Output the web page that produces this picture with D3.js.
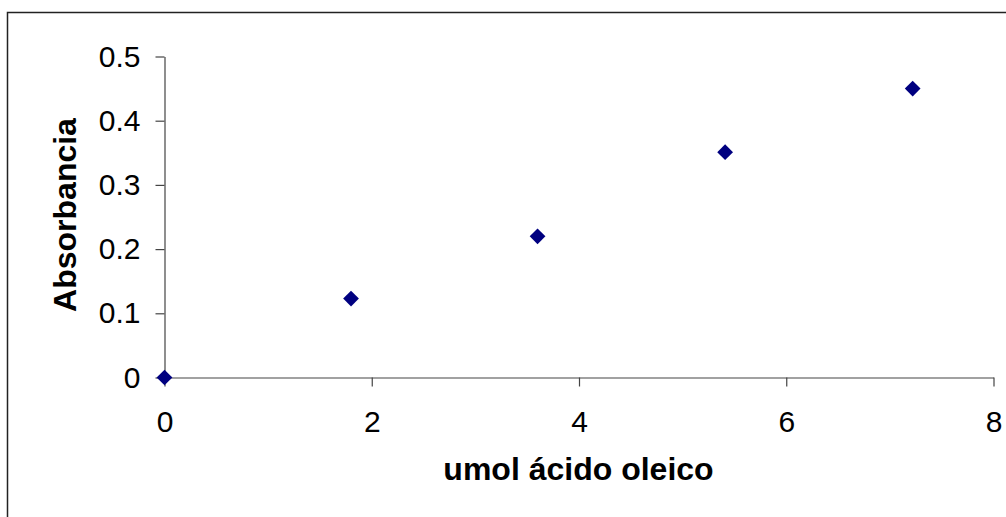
<!DOCTYPE html>
<html>
<head>
<meta charset="utf-8">
<script src="https://cdn.jsdelivr.net/npm/d3@7"></script>
<style>
html,body{margin:0;padding:0;background:#fff;overflow:hidden;}
svg{display:block;}
text{font-family:"Liberation Sans",Arial,sans-serif;fill:#000;}
</style>
</head>
<body>
<script>
const xValues = [0, 1.8, 3.6, 5.41, 7.22];
const yValues = [0, 0.123, 0.22, 0.351, 0.45];
const xTicks = [0, 2, 4, 6, 8];
const yTicks = [0, 0.1, 0.2, 0.3, 0.4, 0.5];
const xTitle = "umol ácido oleico";
const yTitle = "Absorbancia";

const W = 1006, H = 517;
const svg = d3.select("body").append("svg").attr("width", W).attr("height", H);

svg.append("rect").attr("x", 7.5).attr("y", 12.5).attr("width", 1010).attr("height", 520)
  .attr("fill", "none").attr("stroke", "#222").attr("stroke-width", 1.5);

const x = d3.scaleLinear().domain([0, 8]).range([164.5, 993.5]);
const y = d3.scaleLinear().domain([0, 0.5]).range([377.5, 56.5]);

const xAxis = svg.append("g").attr("transform", "translate(0,377.5)")
  .call(d3.axisBottom(x).tickValues(xTicks).tickSizeInner(9).tickSizeOuter(0).tickPadding(24).tickFormat(d3.format("d")));
const yAxis = svg.append("g").attr("transform", "translate(164.5,0)")
  .call(d3.axisLeft(y).tickValues(yTicks).tickSizeInner(9).tickSizeOuter(0).tickPadding(15).tickFormat(d => d === 0 ? "0" : d3.format(".1f")(d)));

[xAxis, yAxis].forEach(g => {
  g.select(".domain").attr("stroke", "#444").attr("stroke-width", 1.2);
  g.selectAll(".tick line").attr("stroke", "#444").attr("stroke-width", 1.2);
  g.selectAll(".tick text").attr("font-size", 30).attr("font-family", "Liberation Sans, Arial, sans-serif").attr("fill", "#000");
});
xAxis.selectAll(".tick text").attr("dy", "0.71em");

const sym = d3.symbol().type(d3.symbolSquare).size(124);
svg.append("g").selectAll("path").data(xValues.map((v, i) => [v, yValues[i]])).join("path")
  .attr("d", sym)
  .attr("transform", d => `translate(${x(d[0])},${y(d[1])}) rotate(45)`)
  .attr("fill", "#000080");

svg.append("text").attr("x", 578.5).attr("y", 480).attr("text-anchor", "middle")
  .attr("font-size", 32).attr("font-weight", "bold").text(xTitle);

svg.append("text").attr("transform", "translate(76,215) rotate(-90)").attr("text-anchor", "middle")
  .attr("font-size", 32).attr("font-weight", "bold").text(yTitle);
</script>
</body>
</html>
